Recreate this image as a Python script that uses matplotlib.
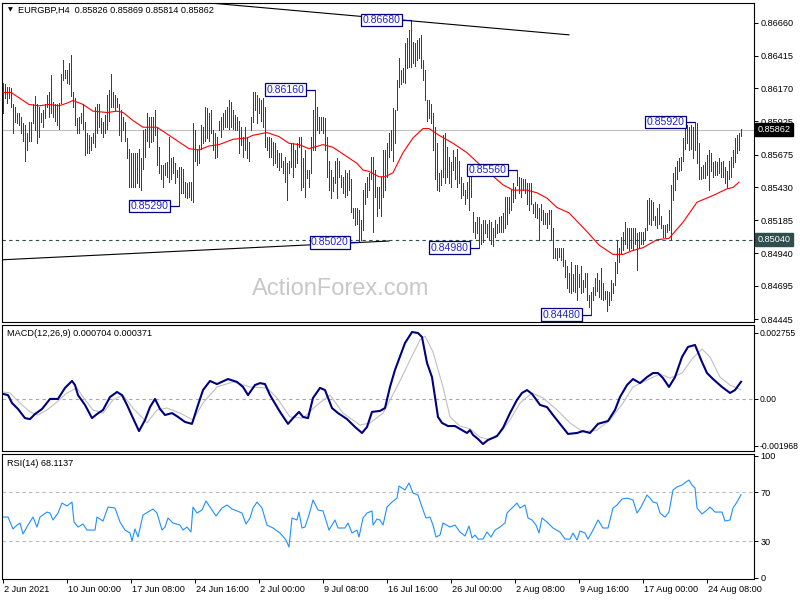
import matplotlib
matplotlib.use("Agg")
import matplotlib.pyplot as plt
from matplotlib.transforms import ScaledTranslation, blended_transform_factory
import numpy as np

plt.rcParams['font.family'] = ['Liberation Sans', 'DejaVu Sans']

# ---------------- data ----------------
bar_high = [
    0.8621, 0.8620, 0.8618, 0.8618, 0.8617, 0.8605, 0.8603, 0.8599, 0.8599, 0.8596,
    0.8591, 0.8590, 0.8584, 0.8592, 0.8592, 0.8605, 0.8611, 0.8605, 0.8603, 0.8599,
    0.8601, 0.8605, 0.8612, 0.8614, 0.8627, 0.8607, 0.8605, 0.8605, 0.8606, 0.8628,
    0.8638, 0.8631, 0.8631, 0.8636, 0.8642, 0.8614, 0.8610, 0.8595, 0.8596, 0.8599,
    0.8605, 0.8592, 0.8584, 0.8582, 0.8581, 0.8584, 0.8603, 0.8605, 0.8605, 0.8595,
    0.8592, 0.8597, 0.8612, 0.8616, 0.8628, 0.8614, 0.8612, 0.8610, 0.8605, 0.8601,
    0.8596, 0.8592, 0.8580, 0.8572, 0.8569, 0.8569, 0.8569, 0.8569, 0.8572, 0.8565,
    0.8586, 0.8587, 0.8599, 0.8596, 0.8596, 0.8596, 0.8601, 0.8588, 0.8573, 0.8560,
    0.8560, 0.8561, 0.8562, 0.8581, 0.8565, 0.8566, 0.8561, 0.8556, 0.8558, 0.8558,
    0.8557, 0.8547, 0.8546, 0.8547, 0.8547, 0.8591, 0.8586, 0.8572, 0.8575, 0.8590,
    0.8588, 0.8603, 0.8602, 0.8599, 0.8601, 0.8586, 0.8584, 0.8581, 0.8593, 0.8596,
    0.8599, 0.8601, 0.8603, 0.8608, 0.8607, 0.8601, 0.8597, 0.8596, 0.8593, 0.8588,
    0.8581, 0.8588, 0.8581, 0.8577, 0.8596, 0.8614, 0.8614, 0.8612, 0.8610, 0.8608,
    0.8610, 0.8603, 0.8581, 0.8581, 0.8580, 0.8577, 0.8576, 0.8571, 0.8569, 0.8569,
    0.8563, 0.8566, 0.8561, 0.8563, 0.8576, 0.8576, 0.8571, 0.8576, 0.8581, 0.8581,
    0.8565, 0.8571, 0.8556, 0.8556, 0.8581, 0.8601, 0.8616, 0.8603, 0.8596, 0.8596,
    0.8596, 0.8595, 0.8581, 0.8563, 0.8556, 0.8551, 0.8563, 0.8565, 0.8563, 0.8552,
    0.8551, 0.8556, 0.8554, 0.8556, 0.8549, 0.8528, 0.8528, 0.8528, 0.8526, 0.8519,
    0.8541, 0.8546, 0.8551, 0.8554, 0.8566, 0.8566, 0.8556, 0.8543, 0.8543, 0.8551,
    0.8571, 0.8571, 0.8576, 0.8584, 0.8586, 0.8602, 0.8601, 0.8623, 0.8640, 0.8631,
    0.8632, 0.8651, 0.8655, 0.8661, 0.8668, 0.8652, 0.8651, 0.8653, 0.8655, 0.8657,
    0.8638, 0.8631, 0.8608, 0.8608, 0.8605, 0.8599, 0.8588, 0.8576, 0.8554, 0.8556,
    0.8582, 0.8584, 0.8573, 0.8566, 0.8562, 0.8571, 0.8566, 0.8572, 0.8563, 0.8551,
    0.8546, 0.8541, 0.8547, 0.8556, 0.8554, 0.8525, 0.8517, 0.8521, 0.8521, 0.8516,
    0.8519, 0.8519, 0.8516, 0.8519, 0.8517, 0.8513, 0.8519, 0.8516, 0.8521, 0.8522,
    0.8524, 0.8536, 0.8536, 0.8536, 0.8541, 0.8546, 0.8543, 0.8556, 0.8551, 0.8550,
    0.8549, 0.8549, 0.8546, 0.8546, 0.8546, 0.8531, 0.8532, 0.8531, 0.8528, 0.8531,
    0.8526, 0.8524, 0.8524, 0.8526, 0.8526, 0.8513, 0.8498, 0.8498, 0.8498, 0.8498,
    0.8498, 0.8489, 0.8484, 0.8479, 0.8487, 0.8478, 0.8485, 0.8485, 0.8478, 0.8484,
    0.8474, 0.8479, 0.8479, 0.8463, 0.8465, 0.8469, 0.8475, 0.8479, 0.8474, 0.8483,
    0.8472, 0.8466, 0.8466, 0.8465, 0.8474, 0.8472, 0.8487, 0.8504, 0.8498, 0.8506,
    0.8510, 0.8517, 0.8513, 0.8513, 0.8513, 0.8513, 0.8513, 0.8509, 0.8510, 0.8510,
    0.8510, 0.8513, 0.8534, 0.8535, 0.8534, 0.8532, 0.8522, 0.8528, 0.8531, 0.8522,
    0.8515, 0.8515, 0.8516, 0.8526, 0.8545, 0.8554, 0.8558, 0.8563, 0.8565, 0.8566,
    0.8580, 0.8588, 0.8590, 0.8588, 0.8590, 0.8588, 0.8592, 0.8591, 0.8576, 0.8558,
    0.8560, 0.8562, 0.8567, 0.8571, 0.8569, 0.8562, 0.8563, 0.8562, 0.8565, 0.8562,
    0.8563, 0.8558, 0.8555, 0.8563, 0.8566, 0.8571, 0.8580, 0.8582, 0.8584, 0.85869,
]
bar_low = [
    0.8599, 0.8610, 0.8606, 0.8610, 0.8603, 0.8584, 0.8592, 0.8591, 0.8590, 0.8584,
    0.8578, 0.8563, 0.8571, 0.8578, 0.8578, 0.8591, 0.8586, 0.8576, 0.8581, 0.8592,
    0.8588, 0.8595, 0.8603, 0.8596, 0.8599, 0.8596, 0.8593, 0.8590, 0.8587, 0.8606,
    0.8623, 0.8625, 0.8621, 0.8620, 0.8611, 0.8603, 0.8590, 0.8584, 0.8584, 0.8591,
    0.8587, 0.8567, 0.8569, 0.8569, 0.8571, 0.8576, 0.8573, 0.8584, 0.8588, 0.8584,
    0.8581, 0.8584, 0.8587, 0.8593, 0.8603, 0.8603, 0.8601, 0.8603, 0.8582, 0.8578,
    0.8586, 0.8578, 0.8565, 0.8543, 0.8543, 0.8543, 0.8543, 0.8546, 0.8543, 0.8541,
    0.8557, 0.8566, 0.8578, 0.8573, 0.8577, 0.8578, 0.8582, 0.8560, 0.8554, 0.8549,
    0.8543, 0.8552, 0.8551, 0.8547, 0.8549, 0.8554, 0.8546, 0.8551, 0.8529, 0.8539,
    0.8539, 0.8536, 0.8535, 0.8536, 0.8534, 0.8532, 0.8563, 0.8560, 0.8561, 0.8572,
    0.8576, 0.8578, 0.8580, 0.8578, 0.8584, 0.8571, 0.8565, 0.8566, 0.8586, 0.8581,
    0.8587, 0.8588, 0.8588, 0.8587, 0.8588, 0.8587, 0.8586, 0.8586, 0.8569, 0.8575,
    0.8566, 0.8571, 0.8565, 0.8563, 0.8586, 0.8592, 0.8601, 0.8591, 0.8599, 0.8593,
    0.8588, 0.8573, 0.8571, 0.8566, 0.8566, 0.8560, 0.8561, 0.8558, 0.8556, 0.8558,
    0.8554, 0.8547, 0.8534, 0.8554, 0.8558, 0.8551, 0.8558, 0.8561, 0.8573, 0.8541,
    0.8543, 0.8536, 0.8550, 0.8543, 0.8554, 0.8571, 0.8571, 0.8586, 0.8584, 0.8586,
    0.8584, 0.8571, 0.8551, 0.8541, 0.8535, 0.8540, 0.8546, 0.8535, 0.8551, 0.8543,
    0.8539, 0.8536, 0.8537, 0.8541, 0.8525, 0.8520, 0.8515, 0.8516, 0.8502, 0.8504,
    0.8511, 0.8531, 0.8536, 0.8541, 0.8549, 0.8510, 0.8536, 0.8522, 0.8528, 0.8522,
    0.8536, 0.8541, 0.8551, 0.8566, 0.8571, 0.8563, 0.8576, 0.8601, 0.8618, 0.8620,
    0.8622, 0.8621, 0.8632, 0.8633, 0.8633, 0.8636, 0.8634, 0.8638, 0.8640, 0.8632,
    0.8623, 0.8608, 0.8593, 0.8595, 0.8591, 0.8571, 0.8549, 0.8541, 0.8540, 0.8545,
    0.8551, 0.8546, 0.8551, 0.8546, 0.8543, 0.8556, 0.8549, 0.8543, 0.8546, 0.8535,
    0.8537, 0.8531, 0.8535, 0.8526, 0.8536, 0.8510, 0.8505, 0.8509, 0.8498, 0.8501,
    0.8502, 0.8509, 0.8506, 0.8504, 0.8501, 0.8499, 0.8506, 0.8509, 0.8510, 0.8510,
    0.8510, 0.8513, 0.8516, 0.8524, 0.8526, 0.8532, 0.8535, 0.8545, 0.8539, 0.8536,
    0.8541, 0.8539, 0.8531, 0.8526, 0.8531, 0.8524, 0.8521, 0.8520, 0.8504, 0.8519,
    0.8516, 0.8516, 0.8513, 0.8516, 0.8504, 0.8490, 0.8490, 0.8489, 0.8491, 0.8489,
    0.8484, 0.8476, 0.8468, 0.8465, 0.8464, 0.8466, 0.8465, 0.8459, 0.8469, 0.8464,
    0.8465, 0.8469, 0.8459, 0.8454, 0.8448, 0.8459, 0.8463, 0.8466, 0.8461, 0.8460,
    0.8459, 0.8460, 0.8451, 0.8455, 0.8459, 0.8464, 0.8470, 0.8479, 0.8487, 0.8494,
    0.8496, 0.8501, 0.8498, 0.8496, 0.8498, 0.8496, 0.8501, 0.8481, 0.8498, 0.8501,
    0.8501, 0.8504, 0.8511, 0.8516, 0.8515, 0.8519, 0.8515, 0.8513, 0.8516, 0.8513,
    0.8506, 0.8506, 0.8510, 0.8511, 0.8504, 0.8534, 0.8541, 0.8549, 0.8555, 0.8556,
    0.8563, 0.8572, 0.8576, 0.8571, 0.8572, 0.8565, 0.8571, 0.8561, 0.8549, 0.8549,
    0.8550, 0.8550, 0.8552, 0.8541, 0.8555, 0.8551, 0.8552, 0.8552, 0.8554, 0.8551,
    0.8551, 0.8546, 0.8543, 0.8549, 0.8551, 0.8558, 0.8562, 0.8569, 0.8571, 0.85814,
]

ma_idx = [0, 4, 8, 13, 18, 23, 28, 32, 35, 40,
          45, 52, 57, 60, 65, 70, 77, 83, 88, 93,
          98, 103, 108, 115, 122, 125, 132, 138, 143, 148,
          153, 160, 165, 172, 177, 180, 183, 188, 191, 195,
          200, 205, 210, 213, 218, 225, 232, 237, 243, 250,
          255, 262, 267, 272, 277, 283, 292, 298, 305, 310,
          315, 320, 327, 333, 340, 347, 355, 362, 365, 368]
ma_val = [0.8614, 0.8614, 0.8610, 0.8605, 0.8604, 0.8605, 0.8604, 0.8606, 0.8608, 0.8605,
          0.8600, 0.8599, 0.8600, 0.8599, 0.8593, 0.8588, 0.8588, 0.8582, 0.8577, 0.8572,
          0.8571, 0.8574, 0.8575, 0.8579, 0.8580, 0.8582, 0.8584, 0.8581, 0.8576, 0.8575,
          0.8572, 0.8575, 0.8573, 0.8566, 0.8561, 0.8556, 0.8555, 0.8551, 0.8551, 0.8554,
          0.8569, 0.8580, 0.8587, 0.8587, 0.8582, 0.8576, 0.8569, 0.8562, 0.8554, 0.8545,
          0.8541, 0.8541, 0.8539, 0.8535, 0.8528, 0.8524, 0.8510, 0.8500, 0.8493, 0.8493,
          0.8496, 0.8498, 0.8504, 0.8505, 0.8517, 0.8532, 0.8537, 0.8542, 0.8543, 0.8547]

macd_idx = [0, 2.5, 4.5, 7.5, 11, 13.5, 16, 19.5, 23.5, 27.5,
            31, 34.5, 36, 37.5, 41, 44.5, 47, 50, 53.5, 57,
            59.5, 62, 65, 68, 71, 73.5, 76, 78.5, 81, 84.5,
            87.5, 91, 94.5, 97, 100, 103.5, 107, 112.5, 117, 120,
            122.5, 126, 128.5, 131, 133.5, 138.5, 142.5, 145, 148, 150,
            152.5, 155, 158.5, 161, 164.5, 167.5, 172, 176, 179.5, 182,
            184.5, 188.5, 191, 193.5, 196, 198.5, 201, 204.5, 207.5, 209.5,
            212, 214.5, 216, 217.5, 219.5, 222.5, 226, 229.5, 232, 233.5,
            235, 237.5, 240, 242.5, 247, 250, 253.5, 257, 259.5, 262,
            264.5, 266, 268.5, 272, 275, 278.5, 282.5, 287, 290, 293.5,
            297.5, 302.5, 306, 308.5, 312, 315, 318.5, 322, 325, 327.5,
            330, 333, 336, 339.5, 342.5, 346, 349.5, 352, 355, 359.5,
            363.5, 366, 369]
macd_main = [0.00020, 0.00015, -0.00018, -0.00043, -0.00081, -0.00085, -0.00064, -0.00043, -0.00001, -0.00001,
             0.00045, 0.00074, 0.00057, 0.00015, -0.00026, -0.00081, -0.00064, -0.00047, 0.00007, 0.00028,
             0.00015, -0.00026, -0.00081, -0.00135, -0.00089, -0.00035, -0.00001, -0.00043, -0.00068, -0.00060,
             -0.00076, -0.00097, -0.00105, -0.00039, 0.00036, 0.00074, 0.00061, 0.00082, 0.00070, 0.00049,
             0.00015, 0.00057, 0.00065, 0.00061, 0.00015, -0.00055, -0.00105, -0.00081, -0.00055, -0.00076,
             -0.00081, 0.00003, 0.00045, 0.00036, -0.00039, -0.00060, -0.00085, -0.00118, -0.00143, -0.00118,
             -0.00055, -0.00051, -0.00039, 0.00049, 0.00120, 0.00176, 0.00232, 0.00278, 0.00274, 0.00257,
             0.00149, 0.00090, 0.00007, -0.00076, -0.00101, -0.00114, -0.00114, -0.00131, -0.00143, -0.00131,
             -0.00151, -0.00168, -0.00189, -0.00172, -0.00156, -0.00122, -0.00060, -0.00005, 0.00024, 0.00036,
             0.00020, 0.00003, -0.00026, -0.00035, -0.00068, -0.00105, -0.00147, -0.00143, -0.00135, -0.00143,
             -0.00105, -0.00093, -0.00047, 0.00007, 0.00057, 0.00082, 0.00065, 0.00090, 0.00107, 0.00107,
             0.00086, 0.00049, 0.00090, 0.00174, 0.00216, 0.00224, 0.00153, 0.00107, 0.00082, 0.00049,
             0.00024, 0.00036, 0.000704]

signal_idx = [0, 3.5, 8.5, 13.5, 17.5, 22, 27, 32, 37, 40,
              45, 50, 55, 60, 65, 72, 77, 82, 88.5, 95,
              100, 107, 115, 123.5, 132, 137, 143.5, 150, 157, 163.5,
              170, 178.5, 183.5, 190, 197, 203.5, 208.5, 211, 215, 220,
              223.5, 228.5, 233.5, 238.5, 243.5, 248.5, 253.5, 258.5, 264.5, 270,
              277, 283.5, 290, 297, 303.5, 310, 315, 322, 328.5, 333.5,
              339.5, 345, 349.5, 353.5, 358.5, 363.5, 369]
macd_signal = [0.00028, 0.00024, -0.00018, -0.00055, -0.00068, -0.00047, -0.00014, 0.00024, 0.00045, 0.00007,
               -0.00047, -0.00060, -0.00005, 0.00015, -0.00039, -0.00101, -0.00047, -0.00039, -0.00060, -0.00089,
               -0.00018, 0.00049, 0.00070, 0.00049, 0.00045, 0.00003, -0.00076, -0.00081, -0.00026, 0.00015,
               -0.00060, -0.00110, -0.00101, -0.00060, 0.00049, 0.00161, 0.00245, 0.00261, 0.00195, 0.00049,
               -0.00076, -0.00114, -0.00126, -0.00160, -0.00172, -0.00143, -0.00089, -0.00018, 0.00024, 0.00003,
               -0.00047, -0.00101, -0.00139, -0.00131, -0.00089, -0.00018, 0.00049, 0.00078, 0.00103, 0.00086,
               0.00107, 0.00170, 0.00207, 0.00174, 0.00090, 0.00057, 0.000371]

rsi_idx = [0, 2.5, 5, 7, 8.5, 10, 12.5, 15, 17, 18.5,
           22, 23.5, 25, 27.5, 29.5, 32, 34.5, 35.5, 37.5, 40,
           42, 46, 47, 50, 52.5, 56, 58.5, 61, 63.5, 64.5,
           66, 67.5, 70, 72.5, 75, 77, 79.5, 81, 82.5, 85,
           88.5, 90, 92, 94, 95, 97, 99.5, 101.5, 103.5, 106.5,
           109.5, 112, 114.5, 117, 119.5, 121.5, 123.5, 125, 127, 129.5,
           132, 135, 138.5, 141.5, 143, 144.5, 147, 148, 149.5, 151,
           153, 155, 157.5, 160, 163, 166, 167.5, 171, 172.5, 174.5,
           177, 178, 180, 182, 184.5, 185, 187, 188.5, 190, 192,
           194.5, 197, 198, 201, 203, 205, 207.5, 209.5, 211.5, 213.5,
           215, 216.5, 218.5, 220, 223.5, 226, 228.5, 231, 233, 234.5,
           236, 237.5, 240, 242, 244, 246, 248.5, 251, 252, 254.5,
           257, 258.5, 261, 262.5, 264.5, 266.5, 268, 269.5, 272, 275,
           278.5, 281, 283.5, 285, 287, 288.5, 291, 292.5, 295, 297.5,
           300, 302.5, 305, 307, 309.5, 312, 315, 317, 319, 322,
           323.5, 325, 327, 328.5, 331, 333, 335, 337, 339.5, 341.5,
           343, 344.5, 346, 347, 349.5, 352, 353.5, 356, 359.5, 361,
           363.5, 365, 367, 369]
rsi_val = [49.7, 49.7, 39.9, 43.1, 44.8, 35.8, 43.1, 49.7, 41.5, 49.7,
           53.8, 53.0, 47.3, 53.0, 61.2, 58.8, 62.0, 45.6, 41.5, 44.0,
           39.0, 39.0, 49.7, 46.4, 57.9, 57.1, 45.6, 39.0, 36.6, 30.0,
           39.9, 33.3, 51.4, 53.8, 56.3, 53.0, 39.0, 41.5, 48.9, 44.8,
           43.1, 39.0, 41.5, 37.4, 57.9, 53.0, 55.5, 62.9, 57.9, 50.5,
           57.1, 59.6, 56.3, 54.7, 53.0, 44.0, 48.9, 57.1, 62.0, 57.1,
           43.1, 40.7, 36.6, 30.8, 25.1, 48.9, 47.3, 53.8, 40.7, 41.5,
           51.4, 63.7, 55.5, 54.7, 39.0, 47.3, 40.7, 40.7, 44.8, 36.6,
           39.0, 33.3, 48.9, 53.0, 54.7, 43.1, 48.1, 47.3, 43.1, 57.9,
           62.0, 65.3, 75.2, 71.9, 77.7, 69.4, 67.8, 57.9, 48.9, 49.7,
           43.1, 33.3, 34.9, 44.8, 41.5, 43.1, 37.4, 34.1, 42.3, 32.5,
           34.9, 31.6, 31.6, 37.4, 33.3, 39.0, 41.5, 44.8, 53.0, 57.1,
           61.2, 57.1, 59.6, 48.9, 47.3, 43.1, 36.6, 48.9, 45.6, 40.7,
           37.4, 31.6, 31.6, 36.6, 30.8, 38.2, 36.6, 31.6, 39.0, 47.3,
           40.7, 40.7, 57.1, 59.6, 64.5, 65.3, 63.7, 53.0, 57.9, 67.8,
           65.3, 62.0, 61.2, 53.0, 49.7, 53.8, 71.9, 74.4, 76.0, 78.5,
           80.1, 76.0, 73.6, 57.1, 52.2, 55.5, 57.9, 53.8, 53.8, 46.4,
           47.3, 57.1, 62.0, 68.1137]

label_idx = [204, 156, 88, 178, 238, 257, 294, 346]
label_val = [0.86680, 0.86160, 0.85290, 0.85020, 0.84980, 0.85560, 0.84480, 0.85920]

upper_trend_idx = [102, 283]
upper_trend_val = [0.8681, 0.8657]
lower_trend_idx = [0, 193]
lower_trend_val = [0.8489, 0.8503]

last_close = 0.85862
support_level = 0.85040

price_ticks = [0.86660, 0.86415, 0.86170, 0.85925, 0.85675, 0.85430, 0.85185, 0.84940, 0.84695, 0.84445]
macd_ticks = [0.002755, 0.0, -0.001968]
macd_tick_labels = ['0.002755', '0.00', '-0.001968']
rsi_ticks = [100, 70, 30, 0]
rsi_levels = [70, 30]

date_idx = [0, 32, 64, 96, 128, 160, 192, 224, 256, 288, 320, 352]
date_labels = ['2 Jun 2021', '10 Jun 00:00', '17 Jun 08:00', '24 Jun 16:00', '2 Jul 00:00',
               '9 Jul 08:00', '16 Jul 16:00', '26 Jul 00:00', '2 Aug 08:00', '9 Aug 16:00',
               '17 Aug 00:00', '24 Aug 08:00']

title_text = 'EURGBP,H4  0.85826 0.85869 0.85814 0.85862'
macd_text = 'MACD(12,26,9) 0.000704 0.000371'
rsi_text = 'RSI(14) 68.1137'

# ---------------- layout ----------------
W, H = 800, 600
fig = plt.figure(figsize=(8, 6), dpi=100)
fig.patch.set_facecolor('white')


def rect(l, t, r, b):
    return [l / W, 1 - b / H, (r - l) / W, (b - t) / H]


ax1 = fig.add_axes(rect(2, 3, 754, 322))
ax2 = fig.add_axes(rect(2, 325, 754, 451))
ax3 = fig.add_axes(rect(2, 454, 754, 579))

FS = 6.6
BAR = '#1A4A60'
XL = (-0.5, 375.5)

for ax in (ax1, ax2, ax3):
    ax.set_xlim(*XL)
    for s in ax.spines.values():
        s.set_linewidth(0.8)
        s.set_color('black')
    ax.yaxis.tick_right()
    ax.tick_params(axis='y', direction='out', length=3, width=0.7, labelsize=FS, pad=1.5, colors='black')
    ax.set_facecolor('white')

ax1.set_xticks([])
ax2.set_xticks([])

# ---- price panel ----
ax1.set_ylim(0.84425, 0.86808)
x = np.arange(len(bar_high))
ax1.text(169, 0.8467, 'ActionForex.com', fontsize=17, color='#C8C8C8', ha='center', va='center', zorder=0.5)
ax1.axhline(last_close, color='#C0C0C0', lw=0.8, zorder=1)
ax1.axhline(support_level, color='#2F4F4F', lw=0.8, ls=(0, (3, 3)), zorder=1)
ax1.vlines(x, bar_low, bar_high, color=BAR, lw=0.55, antialiased=False, zorder=2)
ax1.plot(ma_idx, ma_val, color='#FF0000', lw=0.8, zorder=3)
ax1.plot(upper_trend_idx, upper_trend_val, color='black', lw=0.8, zorder=3)
ax1.plot(lower_trend_idx, lower_trend_val, color='black', lw=0.8, zorder=3)

for idx, val in zip(label_idx, label_val):
    ax1.plot([idx - 4.6, idx], [val, val], color='#000080', lw=0.9, zorder=4, solid_capstyle='butt')
    ax1.text(idx - 5.2, val, f'{val:.5f}', ha='right', va='center', fontsize=7.6, color='#2222CC',
             bbox=dict(boxstyle='square,pad=0.12', fc='white', ec='#000080', lw=0.9), zorder=5)

ax1.set_yticks(price_ticks)
ax1.set_yticklabels([f'{v:.5f}' for v in price_ticks])

tr1 = blended_transform_factory(ax1.transAxes, ax1.transData)
ax1.text(1.0045, last_close, f'{last_close:.5f}', transform=tr1, ha='left', va='center', fontsize=FS,
         color='white', bbox=dict(boxstyle='square,pad=0.25', fc='black', ec='black'), zorder=10, clip_on=False)
ax1.text(1.0045, support_level, f'{support_level:.5f}', transform=tr1, ha='left', va='center', fontsize=FS,
         color='white', bbox=dict(boxstyle='square,pad=0.25', fc='#2F4F4F', ec='#2F4F4F'), zorder=10, clip_on=False)

ax1.text(0.0105, 0.978, '\u25BC', transform=ax1.transAxes, fontsize=4.5, ha='center', va='center',
         family='DejaVu Sans', color='black')
ax1.text(0.0215, 0.978, title_text, transform=ax1.transAxes, fontsize=FS, ha='left', va='center', color='black')

# ---- MACD panel ----
ax2.set_ylim(-0.002181, 0.003073)
ax2.axhline(0, color='#A8A8A8', lw=0.8, ls=(0, (3, 3)))
ax2.plot(signal_idx, macd_signal, color='#C0C0C0', lw=0.8)
ax2.plot(macd_idx, macd_main, color='#000080', lw=1.5)
ax2.set_yticks(macd_ticks)
ax2.set_yticklabels(macd_tick_labels)
ax2.tick_params(axis='y', labelsize=6.2, pad=1.2)
ax2.text(0.0066, 0.929, macd_text, transform=ax2.transAxes, fontsize=FS, ha='left', va='center')

# ---- RSI panel ----
ax3.set_ylim(-1.2, 101.5)
for lv in rsi_levels:
    ax3.axhline(lv, color='#B8B8B8', lw=0.8, ls=(0, (3, 3)))
ax3.plot(rsi_idx, rsi_val, color='#1E90FF', lw=0.8)
ax3.set_yticks(rsi_ticks)
ax3.set_yticklabels([str(v) for v in rsi_ticks])
ax3.text(0.0066, 0.928, rsi_text, transform=ax3.transAxes, fontsize=FS, ha='left', va='center')

ax3.set_xticks(date_idx)
ax3.set_xticklabels(date_labels)
ax3.tick_params(axis='x', direction='out', length=3, width=0.7, labelsize=FS, pad=1.5)
off = ScaledTranslation(1.5 / 100, 0, fig.dpi_scale_trans)
for lab in ax3.get_xticklabels():
    lab.set_horizontalalignment('left')
    lab.set_transform(lab.get_transform() + off)

fig.savefig('out.png', dpi=100, facecolor='white')
